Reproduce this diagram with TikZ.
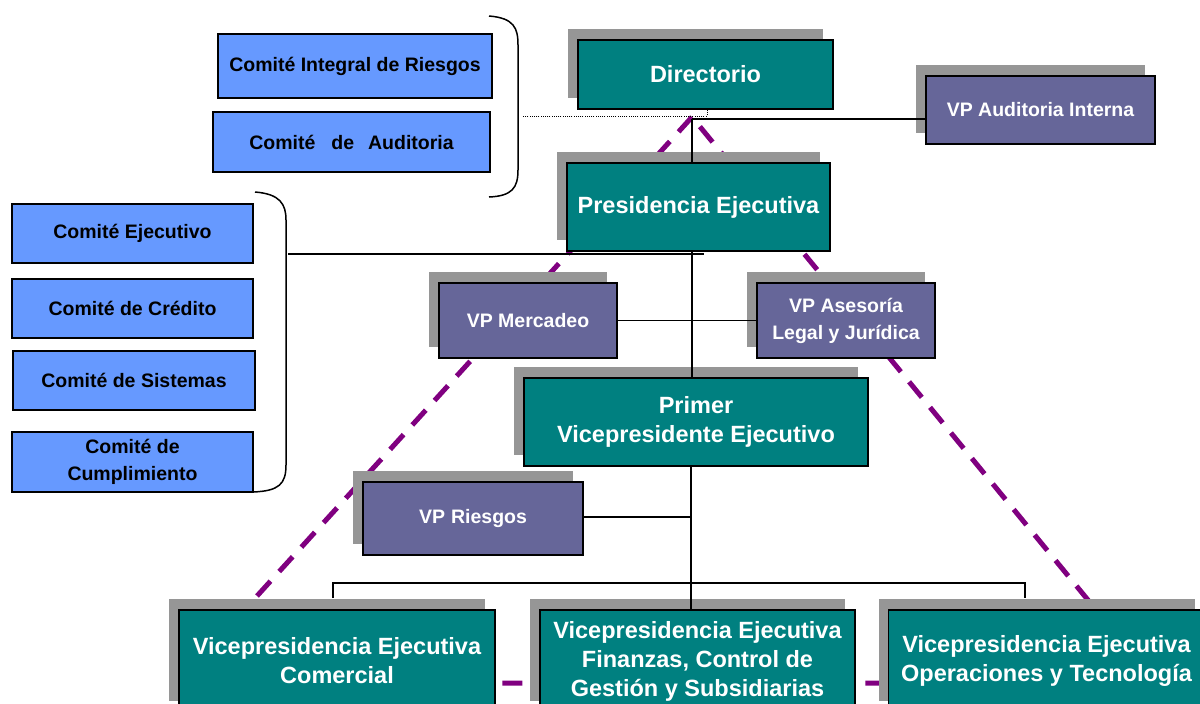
\documentclass[tikz,border=0pt]{standalone}
\usepackage{fontspec}
\setmainfont{Liberation Sans}
\usetikzlibrary{shadows}
\definecolor{tealbox}{RGB}{0,128,128}
\definecolor{vpbox}{RGB}{102,102,153}
\definecolor{combox}{RGB}{102,153,255}
\definecolor{shadowgray}{RGB}{150,150,150}
\definecolor{dashpurple}{RGB}{128,0,128}
\tikzset{
  shad/.style={general shadow={shadow xshift=-10pt, shadow yshift=11pt, fill=shadowgray}},
  tealnode/.style={draw=black, line width=1.5pt, fill=tealbox, text=white,
    font=\fontsize{23.5}{29}\selectfont\bfseries, align=center, inner sep=0pt, shad},
  vpnode/.style={draw=black, line width=1.5pt, fill=vpbox, text=white,
    font=\fontsize{19.5}{27}\selectfont\bfseries, align=center, inner sep=0pt, shad},
  comnode/.style={draw=black, line width=1.5pt, fill=combox, text=black,
    font=\fontsize{19.5}{27}\selectfont\bfseries, align=center, inner sep=0pt},
  conn/.style={line width=1.3pt, black},
  dotconn/.style={line width=0.9pt, black, dash pattern=on 1pt off 1.2pt},
  tri/.style={dashpurple, line width=5pt, dash pattern=on 20pt off 13pt},
  bracketline/.style={line width=1.5pt, black}
}
\begin{document}
\begin{tikzpicture}[x=1pt,y=-1pt]
\path[use as bounding box] (0,0) rectangle (1200,704);
\fill[white] (0,0) rectangle (1200,704);

% dashed triangle
\coordinate (apex) at (692,117);
\coordinate (tl) at (178,683);
\coordinate (tr) at (1156,683);
\draw[tri] (apex) -- (tl) -- (tr) -- cycle;

% committees
\node[comnode, minimum width=274pt, minimum height=64pt] (cir) at (355,66) {Comité Integral de Riesgos};
\node[comnode, minimum width=277pt, minimum height=60pt] (cau) at (351.5,142) {Comité\hspace{16pt}de\hspace{14pt}Auditoria};
\node[comnode, minimum width=241pt, minimum height=59pt] (cej) at (132.5,233.5) {Comité Ejecutivo};
\node[comnode, minimum width=241pt, minimum height=59pt] (ccr) at (132.5,308.5) {Comité de Crédito};
\node[comnode, minimum width=242pt, minimum height=59pt] (csi) at (134,380.5) {Comité de Sistemas};
\node[comnode, minimum width=241pt, minimum height=60pt] (ccu) at (132.5,462) {Comité de\\Cumplimiento};

% brackets
\draw[bracketline] (489,16) .. controls (514,18) and (518,28) .. (518,45) -- (518,170) .. controls (518,188) and (512,196) .. (489,197);
\draw[bracketline] (255,192) .. controls (280,194) and (286,204) .. (286,220) -- (286,465) .. controls (286,484) and (279,491) .. (253,492);
\coordinate (b1) at (522,116);
\coordinate (b2) at (288,254);

% main boxes
\node[tealnode, minimum width=255pt, minimum height=69pt] (dir) at (705.5,74.5) {Directorio};
\node[vpnode, minimum width=229pt, minimum height=68pt] (vpa) at (1040.5,110) {VP Auditoria Interna};
\node[tealnode, minimum width=263pt, minimum height=88pt] (pre) at (698.5,207) {Presidencia Ejecutiva};
\node[vpnode, minimum width=178pt, minimum height=75pt] (mer) at (528,320.5) {VP Mercadeo};
\node[vpnode, minimum width=178pt, minimum height=75pt] (ase) at (846,320.5) {VP Asesoría\\Legal y Jurídica};
\node[tealnode, minimum width=344pt, minimum height=88pt] (pri) at (696,422) {Primer\\Vicepresidente Ejecutivo};
\node[vpnode, minimum width=220pt, minimum height=73pt] (rie) at (473,518.5) {VP\hspace{6pt}Riesgos};
\node[tealnode, minimum width=316pt, minimum height=102pt] (com) at (337,661) {Vicepresidencia Ejecutiva\\Comercial};
\node[tealnode, minimum width=315pt, minimum height=102pt] (fin) at (697.5,661) {Vicepresidencia Ejecutiva\\Finanzas, Control de\\Gestión y Subsidiarias};
\node[tealnode, minimum width=316pt, minimum height=102pt] (ope) at (1046.5,661) {Vicepresidencia Ejecutiva\\Operaciones y Tecnología};

% connectors
\coordinate (j1) at (692,119);
\coordinate (dd) at (707,116);
\draw[dotconn] (dd |- dir.south) -- (dd) -- (b1);
\draw[conn] (j1) -- (j1 -| vpa.west);
\draw[conn] (j1) -- (j1 |- pre.north);
\coordinate (pe) at (704,254);
\draw[conn] (b2) -- (pe);
\draw[conn] (j1 |- pre.south) -- (j1 |- pri.north);
\draw[conn] (mer.east) -- (ase.west);
\coordinate (j2) at (691,517);
\draw[conn] (j2 |- pri.south) -- (j2 |- fin.north);
\draw[conn] (rie.east |- j2) -- (j2);
\coordinate (busl) at (333,583);
\coordinate (busr) at (1025,583);
\draw[conn] (333,598) -- (busl) -- (busr) -- (1025,598);
\end{tikzpicture}
\end{document}
